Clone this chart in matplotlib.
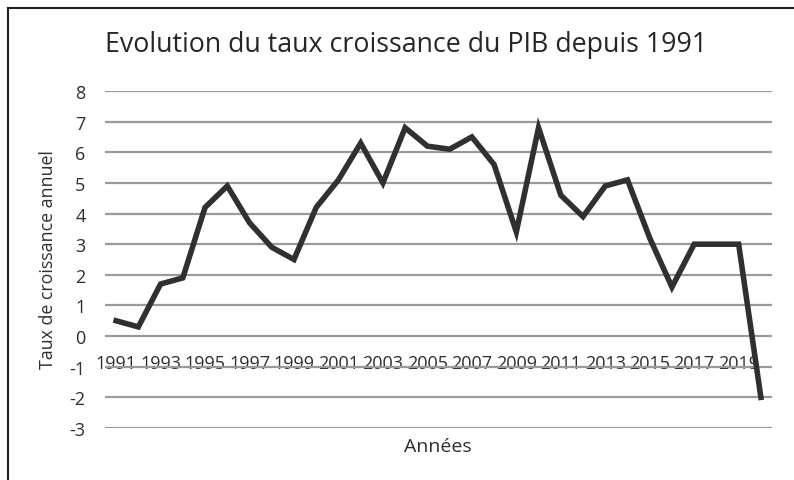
import matplotlib
matplotlib.use("Agg")
import matplotlib.pyplot as plt
from matplotlib.lines import Line2D

years = list(range(1991, 2021))
growth = [0.5, 0.3, 1.7, 1.9, 4.2, 4.9, 3.7, 2.9, 2.5, 4.2,
          5.1, 6.3, 5.0, 6.8, 6.2, 6.1, 6.5, 5.6, 3.4, 6.8,
          4.6, 3.9, 4.9, 5.1, 3.2, 1.6, 3.0, 3.0, 3.0, -2.0]
yticks = list(range(-3, 9))
title = "Evolution du taux croissance du PIB depuis 1991"
xlabel = "Années"
ylabel = "Taux de croissance annuel"

plt.rcParams['font.family'] = ['Open Sans', 'DejaVu Sans']

W, H = 794, 481
fig = plt.figure(figsize=(W / 100, H / 100), dpi=100)
ax = fig.add_axes([105 / W, 1 - 429 / H, (772 - 105) / W, (429 - 92) / H])

x = list(range(len(years)))
ax.plot(x, growth, color='#303030', lw=4.0, solid_joinstyle='miter', zorder=3)

ax.set_xlim(-0.5, len(years) - 0.5)
ax.set_ylim(-3, 8)
ax.set_yticks(yticks)
ax.set_yticklabels([str(v) for v in yticks])
ax.yaxis.grid(True, color='#9a9a9a', lw=1.6)
ax.set_axisbelow(True)
for s in ['top', 'right', 'left']:
    ax.spines[s].set_visible(False)
ax.spines['bottom'].set_position(('data', 0))
ax.spines['bottom'].set_visible(False)
ax.set_xticks(x[::2])
ax.set_xticklabels([str(y) for y in years[::2]])
ax.tick_params(axis='x', length=0, pad=13, labelsize=13, labelcolor='#2e2e2e')
ax.tick_params(axis='y', length=0, pad=14, labelsize=13, labelcolor='#2e2e2e')

fig.text(406 / W, 1 - 45 / H, title, ha='center', va='center', fontsize=19.3, color='#262626')
fig.text(438 / W, 1 - 447 / H, xlabel, ha='center', va='center', fontsize=14, color='#2e2e2e')
fig.text(48 / W, 1 - 260 / H, ylabel, ha='center', va='center', rotation=90, fontsize=12.8, color='#2e2e2e')

fig.add_artist(Line2D([8 / W, 8 / W], [0, 1 - 9 / H], transform=fig.transFigure, color='#222222', lw=1.5))
fig.add_artist(Line2D([8 / W, 1], [1 - 9 / H, 1 - 9 / H], transform=fig.transFigure, color='#222222', lw=1.5))

fig.savefig('out.png', dpi=100, facecolor='white')
